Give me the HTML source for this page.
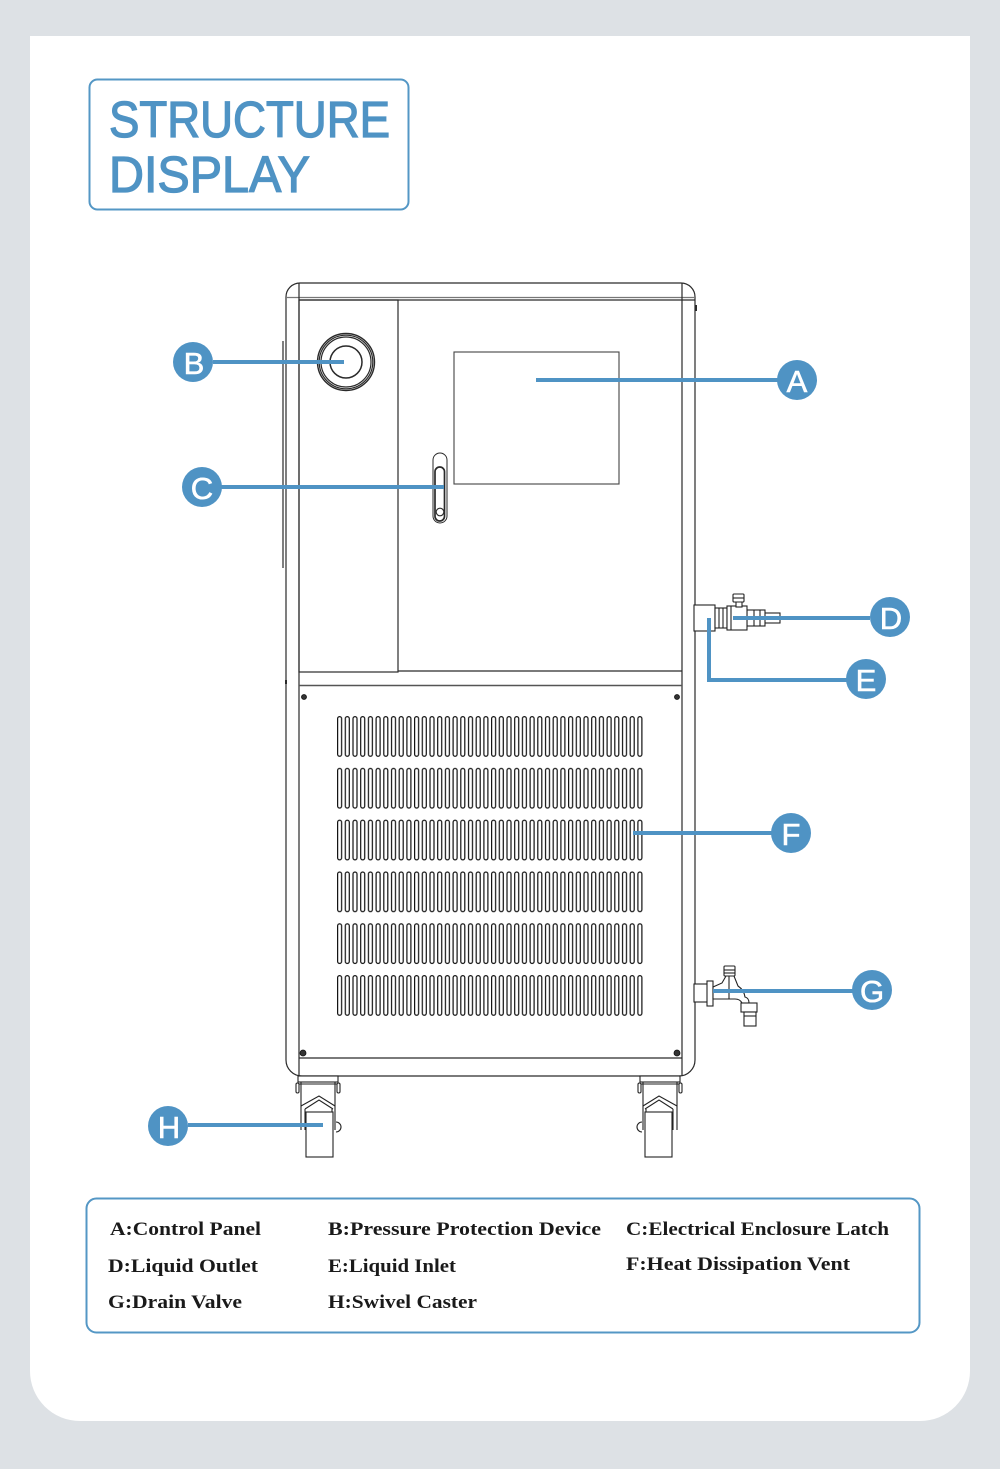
<!DOCTYPE html>
<html><head><meta charset="utf-8"><style>
html,body{margin:0;padding:0;background:#dde1e5;}
svg{display:block;}
</style></head><body>
<svg width="1000" height="1469" viewBox="0 0 1000 1469" xmlns="http://www.w3.org/2000/svg">
<defs>
<pattern id="vent" patternUnits="userSpaceOnUse" x="337" y="716" width="7.7" height="51.8">
<rect x="0.6" y="0.6" width="4" height="39.6" rx="2" ry="2" fill="#fff" stroke="#111" stroke-width="1.2"/>
</pattern>
<g id="caster" fill="#fff" stroke="#222" stroke-width="1.1">
<rect x="298" y="1076" width="40" height="6"/>
<line x1="299" y1="1084" x2="337" y2="1084"/>
<rect x="296" y="1083" width="3" height="10" rx="1.5"/>
<rect x="337" y="1083" width="3" height="10" rx="1.5"/>
<path d="M301 1082 V1106 M335 1082 V1106"/>
<path d="M301 1106 L319 1096 L335 1106" fill="none"/>
<path d="M305 1109 L319 1100 L333 1109" fill="none"/>
<path d="M301 1106 V1130 M305 1109 V1130 M332 1109 V1130 M335 1106 V1130"/>
<path d="M336 1122 a5 5 0 0 1 0 10" fill="none"/>
<rect x="306" y="1112" width="27" height="45"/>
</g>
</defs>

<!-- card -->
<path d="M30 36 H970 V1371 A50 50 0 0 1 920 1421 H80 A50 50 0 0 1 30 1371 Z" fill="#fff"/>

<!-- title -->
<rect x="89.5" y="79.5" width="319" height="130" rx="8" ry="8" fill="none" stroke="#5497c5" stroke-width="2"/>
<g font-family="Liberation Sans, sans-serif" font-size="51" fill="#4f93c4" stroke="#4f93c4" stroke-width="1.3">
<text x="109" y="137" textLength="281" lengthAdjust="spacingAndGlyphs">STRUCTURE</text>
<text x="109" y="192" textLength="201" lengthAdjust="spacingAndGlyphs">DISPLAY</text>
</g>

<!-- cabinet -->
<g fill="none" stroke="#2a2a2a" stroke-width="1.2">
<path d="M286 1060 V297 A14 14 0 0 1 300 283 H681 A14 14 0 0 1 695 297 V1060 A16 16 0 0 1 679 1076 H302 A16 16 0 0 1 286 1060 Z"/>
<line x1="286" y1="297.5" x2="695" y2="297.5" stroke="#777"/>
<line x1="299" y1="300" x2="695" y2="300"/>
<line x1="299" y1="283" x2="299" y2="1076"/>
<line x1="682" y1="283" x2="682" y2="1076"/>
<line x1="283" y1="341" x2="283" y2="568"/>
<rect x="299" y="300" width="99" height="372"/>
<line x1="398" y1="671" x2="682" y2="671"/>
<line x1="299" y1="685.5" x2="682" y2="685.5" stroke-width="1.6" stroke="#555"/>
<line x1="299" y1="1058" x2="682" y2="1058"/>
<rect x="454" y="352" width="165" height="132" stroke="#444" stroke-width="1.1"/>
<!-- gauge -->
<circle cx="346" cy="362" r="28.5" stroke-width="1.4"/>
<circle cx="346" cy="362" r="26.8" stroke-width="1.2"/>
<circle cx="346" cy="362" r="25" stroke-width="1.2"/>
<circle cx="346" cy="362" r="16" stroke-width="1.5"/>
<!-- latch -->
<rect x="433" y="453" width="14" height="70" rx="7" ry="7" stroke-width="1"/>
<rect x="435" y="467" width="9.5" height="54" rx="4.75" ry="4.75" stroke-width="1.7"/>
<circle cx="440" cy="512" r="3.8" stroke-width="1.1"/>
<!-- small ticks -->
<line x1="286" y1="680" x2="286" y2="684" stroke-width="2"/>
<line x1="696" y1="305" x2="696" y2="311" stroke-width="2"/>
<line x1="696" y1="994" x2="696" y2="1000" stroke-width="2"/>
</g>

<!-- screws -->
<g fill="#333" stroke="#111" stroke-width="0.8">
<circle cx="304" cy="697" r="2.5"/>
<circle cx="677" cy="697" r="2.5"/>
<circle cx="303" cy="1053" r="3"/>
<circle cx="677" cy="1053" r="3"/>
</g>

<!-- vent -->
<rect x="337" y="716" width="307" height="300" fill="url(#vent)"/>

<!-- D/E fittings -->
<g fill="#fff" stroke="#222" stroke-width="1.1">
<rect x="694" y="605" width="21" height="26"/>
<rect x="715" y="608" width="12" height="20"/>
<line x1="719" y1="608" x2="719" y2="628"/>
<line x1="723" y1="608" x2="723" y2="628"/>
<rect x="764" y="613" width="16" height="10"/>
<rect x="747" y="610" width="18" height="16"/>
<line x1="754" y1="610" x2="754" y2="626"/>
<line x1="760" y1="610" x2="760" y2="626"/>
<rect x="727" y="606" width="20" height="24"/>
<line x1="731" y1="606" x2="731" y2="630"/>
<rect x="736" y="601" width="6" height="6"/>
<rect x="733" y="594" width="11" height="8" rx="1"/>
<line x1="733" y1="598" x2="744" y2="598"/>
</g>

<!-- G drain valve -->
<g fill="#fff" stroke="#222" stroke-width="1.1">
<rect x="694" y="984" width="14" height="18"/>
<rect x="707" y="981" width="6" height="25"/>
<path d="M713 987 L722 983 L726 976 H734 L738 986 Q744 990 745 997 Q749 998 749 1003 H742 Q740 999 735 999 H713 Z"/>
<line x1="729" y1="976" x2="729" y2="999"/>
<rect x="724" y="966" width="11" height="10" rx="1"/>
<line x1="724" y1="970" x2="735" y2="970"/>
<line x1="724" y1="973" x2="735" y2="973"/>
<rect x="741" y="1003" width="16" height="9"/>
<rect x="744" y="1012" width="12" height="14"/>
<line x1="744" y1="1016" x2="756" y2="1016"/>
</g>

<!-- casters -->
<use href="#caster"/>
<use href="#caster" transform="translate(978 0) scale(-1 1)"/>

<!-- connectors -->
<g stroke="#4f93c4" stroke-width="4" fill="none">
<line x1="213" y1="362" x2="344" y2="362"/>
<line x1="536" y1="380" x2="778" y2="380"/>
<line x1="221" y1="487" x2="444" y2="487"/>
<line x1="733" y1="618" x2="870" y2="618"/>
<path d="M709 618 V680 H848"/>
<line x1="633" y1="833" x2="772" y2="833"/>
<line x1="713" y1="991" x2="853" y2="991"/>
<line x1="188" y1="1125" x2="323" y2="1125"/>
</g>
<g fill="#4f93c4">
<circle cx="193" cy="362" r="20"/>
<circle cx="797" cy="380" r="20"/>
<circle cx="202" cy="487" r="20"/>
<circle cx="890" cy="617" r="20"/>
<circle cx="866" cy="679" r="20"/>
<circle cx="791" cy="833" r="20"/>
<circle cx="872" cy="990" r="20"/>
<circle cx="168" cy="1126" r="20"/>
</g>
<g fill="#fff" stroke="#fff" stroke-width="0.6" font-family="Liberation Sans, sans-serif" font-size="31" text-anchor="middle">
<text x="194" y="374">B</text>
<text x="797" y="392">A</text>
<text x="202" y="499">C</text>
<text x="891" y="629">D</text>
<text x="866" y="691">E</text>
<text x="791" y="845">F</text>
<text x="872" y="1002">G</text>
<text x="169" y="1138">H</text>
</g>

<!-- legend -->
<rect x="86.5" y="1198.5" width="833" height="134" rx="10" ry="10" fill="none" stroke="#5497c5" stroke-width="2"/>
<g font-family="Liberation Serif, serif" font-weight="bold" font-size="19" fill="#1a1a1a">
<text x="110" y="1235" textLength="151" lengthAdjust="spacingAndGlyphs">A:Control Panel</text>
<text x="328" y="1235" textLength="273" lengthAdjust="spacingAndGlyphs">B:Pressure Protection Device</text>
<text x="626" y="1235" textLength="263" lengthAdjust="spacingAndGlyphs">C:Electrical Enclosure Latch</text>
<text x="108" y="1272" textLength="150" lengthAdjust="spacingAndGlyphs">D:Liquid Outlet</text>
<text x="328" y="1272" textLength="128" lengthAdjust="spacingAndGlyphs">E:Liquid Inlet</text>
<text x="626" y="1270" textLength="224" lengthAdjust="spacingAndGlyphs">F:Heat Dissipation Vent</text>
<text x="108" y="1308" textLength="134" lengthAdjust="spacingAndGlyphs">G:Drain Valve</text>
<text x="328" y="1308" textLength="149" lengthAdjust="spacingAndGlyphs">H:Swivel Caster</text>
</g>
</svg>
</body></html>
